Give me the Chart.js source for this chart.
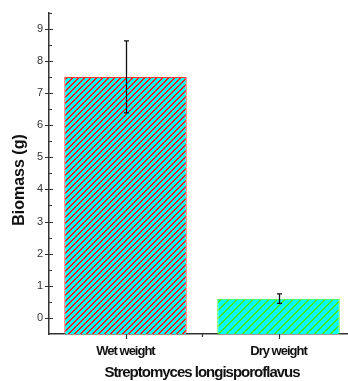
<!DOCTYPE html>
<html>
<head>
<meta charset="utf-8">
<script src="https://cdn.jsdelivr.net/npm/chart.js@4"></script>
<style>
  html, body { margin: 0; padding: 0; background: #fff; overflow: hidden; }
  canvas { display: block; }
</style>
</head>
<body>
<canvas id="biomassChart" width="360" height="381"></canvas>
<script>
// Data
const categories = ["Wet weight", "Dry weight"];
const biomass = [7.5, 0.6];
const biomassErr = [1.12, 0.15];
const yTicks = [0, 1, 2, 3, 4, 5, 6, 7, 8, 9];
const yMin = -0.5;
const yMax = 9.5;
const hatchColors = ["#ff1a1a", "#3fe81a"];
const edgeColors = ["#ff3030", "#33ee33"];

const xTitle = "Streptomyces longisporoflavus";
const yTitle = "Biomass (g)";

// Cyan fill with a crisp diagonal hatch, like the original plot
function hatch(color, size) {
    const c = document.createElement("canvas");
    c.width = size;
    c.height = size;
    const g = c.getContext("2d");
    g.fillStyle = "#00ffff";
    g.fillRect(0, 0, size, size);
    g.fillStyle = color;
    for (let i = 0; i < size; i++) {
        g.fillRect(i, size - 1 - i, 1, 1);
        g.fillRect((i + 1) % size, size - 1 - i, 1, 1);
    }
    return g.createPattern(c, "repeat");
}

// Error bars, axis ticks and the condensed labels
const decorPlugin = {
    id: "decor",
    afterDraw(chart) {
        const ctx = chart.ctx;
        const xs = chart.scales.x;
        const ys = chart.scales.y;
        const area = chart.chartArea;
        ctx.save();

        // error bars
        const meta = chart.getDatasetMeta(0);
        meta.data.forEach((bar, i) => {
            const cx = Math.round(bar.x) + 0.5;
            const top = ys.getPixelForValue(biomass[i] + biomassErr[i]);
            const bot = ys.getPixelForValue(biomass[i] - biomassErr[i]);
            ctx.strokeStyle = "#111";
            ctx.lineWidth = 1.3;
            ctx.beginPath();
            ctx.moveTo(cx, top);
            ctx.lineTo(cx, bot);
            ctx.moveTo(cx - 2.5, top);
            ctx.lineTo(cx + 2.5, top);
            ctx.moveTo(cx - 2.5, bot);
            ctx.lineTo(cx + 2.5, bot);
            ctx.stroke();
        });

        // y ticks: major cross the axis, minor inside
        ctx.strokeStyle = "#333";
        ctx.lineWidth = 1.2;
        ctx.beginPath();
        yTicks.forEach((v) => {
            const py = Math.round(ys.getPixelForValue(v)) + 0.5;
            ctx.moveTo(area.left - 4, py);
            ctx.lineTo(area.left + 4, py);
            const pm = Math.round(ys.getPixelForValue(v + 0.5)) + 0.5;
            ctx.moveTo(area.left, pm);
            ctx.lineTo(area.left + 3, pm);
        });
        // x ticks
        categories.forEach((c, i) => {
            const px = Math.round(xs.getPixelForValue(i)) + 0.5;
            ctx.moveTo(px, area.bottom);
            ctx.lineTo(px, area.bottom + 5);
        });
        const mid = Math.round((xs.getPixelForValue(0) + xs.getPixelForValue(1)) / 2) + 0.5;
        ctx.moveTo(mid, area.bottom);
        ctx.lineTo(mid, area.bottom + 3);
        ctx.stroke();

        // x category labels
        ctx.fillStyle = "#111";
        ctx.textAlign = "center";
        ctx.textBaseline = "middle";
        ctx.letterSpacing = "-1px";
        ctx.font = "bold 13px 'Liberation Sans', Arial, sans-serif";
        categories.forEach((c, i) => {
            ctx.fillText(c, xs.getPixelForValue(i), area.bottom + 17);
        });

        // x title
        ctx.font = "bold 15px 'Liberation Sans', Arial, sans-serif";
        ctx.fillText(xTitle, (area.left + area.right) / 2, area.bottom + 39);

        // y title
        ctx.letterSpacing = "0px";
        ctx.font = "bold 16px 'Liberation Sans', Arial, sans-serif";
        ctx.translate(20, 180);
        ctx.rotate(-Math.PI / 2);
        ctx.fillText(yTitle, 0, 0);

        ctx.restore();
    },
};

new Chart(document.getElementById("biomassChart"), {
    type: "bar",
    data: {
        labels: categories,
        datasets: [
            {
                data: biomass,
                base: yMin,
                backgroundColor: [hatch(hatchColors[0], 6), hatch(hatchColors[1], 8)],
                borderColor: edgeColors,
                borderWidth: 1,
                categoryPercentage: 1,
                barPercentage: 0.8,
            },
        ],
    },
    options: {
        responsive: false,
        animation: false,
        layout: { padding: { left: 0, top: 12, right: 5, bottom: 47 } },
        plugins: {
            legend: { display: false },
            tooltip: { enabled: false },
        },
        scales: {
            x: {
                grid: { display: false, drawTicks: false },
                border: { display: true, color: "#333", width: 1.5 },
                ticks: { display: false },
                afterFit: (s) => { s.height = 0; },
            },
            y: {
                min: yMin,
                max: yMax,
                grid: { display: false, drawTicks: false },
                border: { display: true, color: "#333", width: 1.5 },
                afterBuildTicks: (s) => { s.ticks = yTicks.map((v) => ({ value: v })); },
                afterFit: (s) => { s.width = 49; },
                ticks: {
                    padding: 6,
                    color: "#333",
                    font: { family: "'Liberation Sans', Arial, sans-serif", size: 11 },
                },
            },
        },
    },
    plugins: [decorPlugin],
});
</script>
</body>
</html>
